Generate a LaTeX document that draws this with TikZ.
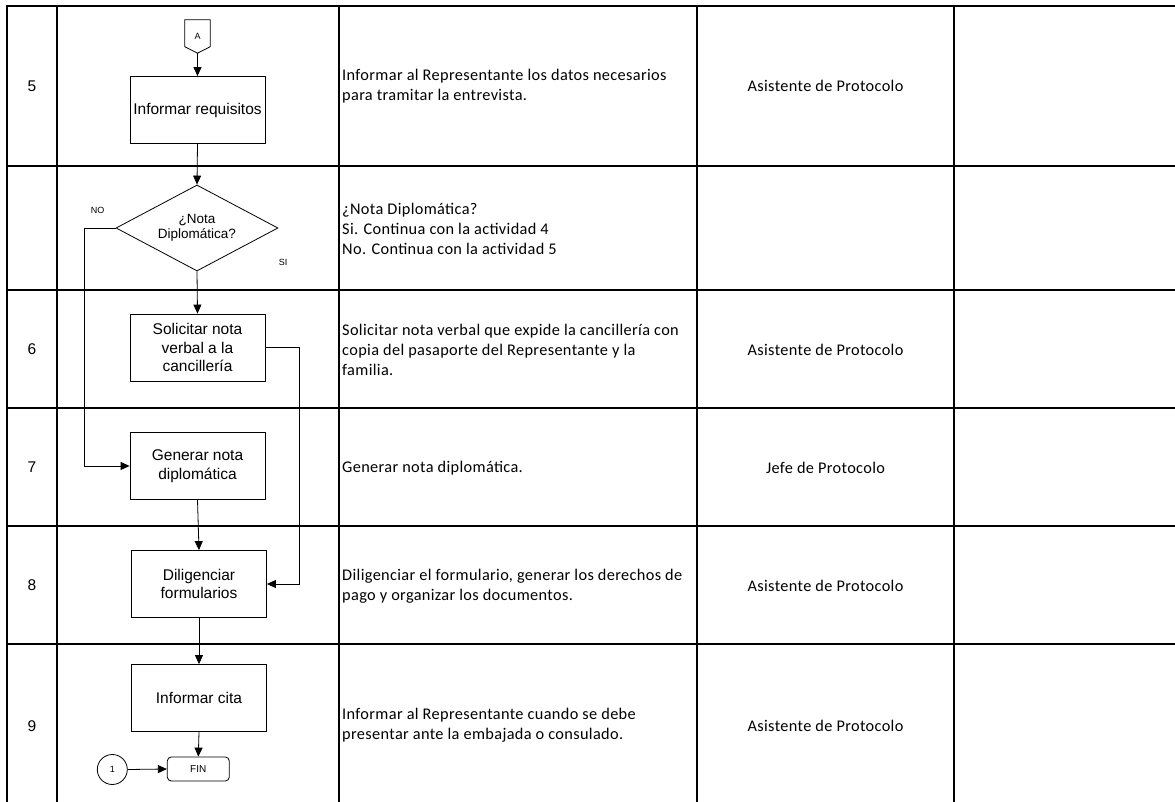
\documentclass[tikz,border=0pt]{standalone}
\usepackage{fontspec}
\setmainfont{Liberation Sans}
\newfontfamily\calib[LetterSpace=2.2]{Carlito}
\usetikzlibrary{arrows.meta,shapes.geometric,calc}
\begin{document}
\begin{tikzpicture}[x=1pt,y=-1pt,
  grid/.style={line width=2pt,black},
  fbox/.style={draw,line width=0.8pt,minimum width=135,minimum height=67,inner sep=1pt,align=center,font=\fontsize{15.5}{18.5}\selectfont},
  arr/.style={line width=0.8pt,-{Triangle[length=9pt,width=8pt]}},
  ln/.style={line width=0.8pt},
  num/.style={font=\fontsize{15.5}{18}\selectfont},
  desc/.style={anchor=west,align=left,inner sep=0pt,font=\calib\fontsize{16.3}{20}\selectfont},
  resp/.style={align=center,inner sep=0pt,font=\calib\fontsize{16.3}{20}\selectfont},
  small/.style={font=\fontsize{9}{11}\selectfont,inner sep=0pt}]
\useasboundingbox (0,0) rectangle (1175,802);
\clip (0,0) rectangle (1175,802);
% table grid
\draw[grid] (7,6) -- (1180,6);
\foreach \yy in {166,290,408,526,644} \draw[grid] (7,\yy) -- (1180,\yy);
\foreach \xx in {7,57,339,697,954} \draw[grid] (\xx,5) -- (\xx,810);
% numbers
\node[num] (n5) at (32,86) {5};
\node[num] (n6) at (32,349) {6};
\node[num] (n7) at (32,467) {7};
\node[num] (n8) at (32,585) {8};
\node[num] (n9) at (32,726) {9};
% descriptions
\node[desc] (d5) at (342,86.5) {Informar al Representante los datos necesarios\\para tramitar la entrevista.};
\node[desc] (d5b) at (342,228.5) {¿Nota Diplomática?\\Si. Continua con la actividad 4\\No. Continua con la actividad 5};
\node[desc] (d6) at (342,350) {Solicitar nota verbal que expide la cancillería con\\copia del pasaporte del Representante y la\\familia.};
\node[desc] (d7) at (342,468) {Generar nota diplomática.};
\node[desc] (d8) at (342,586.5) {Diligenciar el formulario, generar los derechos de\\pago y organizar los documentos.};
\node[desc] (d9) at (342,725) {Informar al Representante cuando se debe\\presentar ante la embajada o consulado.};
% responsible
\node[resp] (r5) at (825.5,86) {Asistente de Protocolo};
\node[resp] (r6) at (825.5,350) {Asistente de Protocolo};
\node[resp] (r7) at (825.5,468) {Jefe de Protocolo};
\node[resp] (r8) at (825.5,586) {Asistente de Protocolo};
\node[resp] (r9) at (825.5,726) {Asistente de Protocolo};
% flowchart
\node[small,minimum width=25,minimum height=33] (A) at (197.5,36.5) {A};
\draw[ln] (A.north west) -- (A.north east) -- ($(A.south east)+(0,-6.5)$) -- (A.south) -- ($(A.south west)+(0,-6.5)$) -- cycle;
\node[fbox] (b1) at (197.5,110) {Informar requisitos};
\node[draw,diamond,line width=0.8pt,minimum width=162,minimum height=86,inner sep=0pt,shape aspect=1.88,align=center,font=\fontsize{13.5}{15}\selectfont] (dia) at (197,228) {¿Nota\\Diplomática?};
\node[small] (no) at (97.7,210.7) {NO};
\node[small] (si) at (283,262.3) {SI};
\node[fbox] (sol) at (197.5,347.5) {Solicitar nota\\verbal a la\\cancillería};
\node[fbox] (gen) at (197.5,466) {Generar nota\\diplomática};
\node[fbox] (dil) at (199,584) {Diligenciar\\formularios};
\node[fbox] (cita) at (199,698) {Informar cita};
\node[draw,line width=0.8pt,rounded corners=4pt,minimum width=62,minimum height=24,inner sep=0pt,font=\fontsize{10}{12}\selectfont] (fin) at (198.3,769) {FIN};
\node[draw,circle,line width=0.8pt,minimum size=30,inner sep=0pt,font=\fontsize{9}{11}\selectfont] (c1) at (112.3,769.5) {1};
% connectors
\draw[arr] (A.south) -- (b1.north);
\draw[arr] (b1.south) -- (dia.north);
\draw[arr] (dia.south) -- (sol.north);
\draw[arr] (dia.west) -- ++(-31,0) |- (gen.west);
\draw[arr] (sol.east) -- ++(34,0) |- (dil.east);
\draw[arr] (gen.south) -- (dil.north);
\draw[arr] (dil.south) -- (cita.north);
\draw[arr] (cita.south) -- (fin.north);
\draw[arr] (c1.east) -- (fin.west);
\end{tikzpicture}
\end{document}
